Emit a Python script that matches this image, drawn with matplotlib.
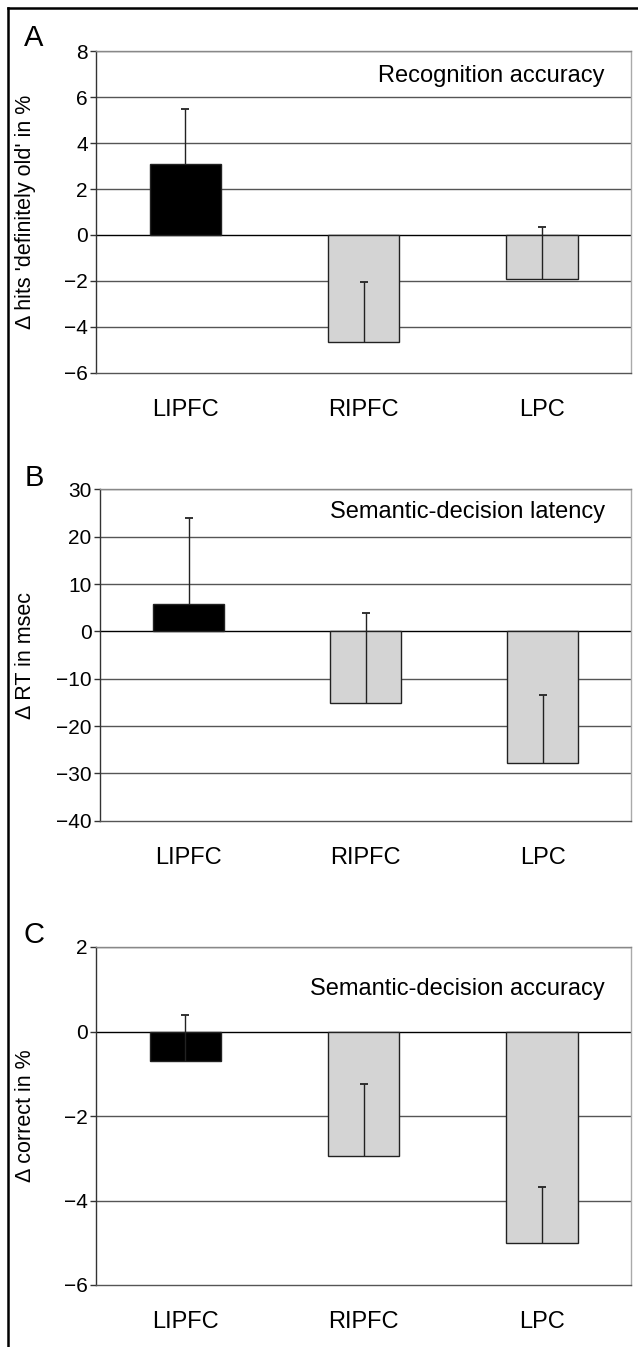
import matplotlib
matplotlib.use("Agg")
import matplotlib.pyplot as plt
from matplotlib.lines import Line2D
import numpy as np

plt.rcParams['font.family'] = ['Liberation Sans', 'DejaVu Sans']

regions = ["LIPFC", "RIPFC", "LPC"]

# A: recognition accuracy
acc_a = [3.1, -4.68, -1.92]
err_a = [2.4, 2.62, 2.28]
# B: semantic-decision latency
rt_b = [5.85, -15.1, -27.7]
err_b = [18.15, 19.0, 14.2]
# C: semantic-decision accuracy
acc_c = [-0.7, -2.95, -5.0]
err_c = [1.08, 1.7, 1.33]

W, H = 638, 1347
fig = plt.figure(figsize=(W / 100, H / 100), dpi=100)

panels = [
    dict(pos=(96, 51.4, 631, 372.7), vals=acc_a, errs=err_a, ylim=(-6, 8), step=2,
         ylabel="\u0394 hits 'definitely old' in %", title="Recognition accuracy",
         title_y=76, letter="A", letter_y=38),
    dict(pos=(100, 489.5, 631, 820.7), vals=rt_b, errs=err_b, ylim=(-40, 30), step=10,
         ylabel="\u0394 RT in msec", title="Semantic-decision latency",
         title_y=512, letter="B", letter_y=478),
    dict(pos=(96, 947, 631, 1285), vals=acc_c, errs=err_c, ylim=(-6, 2), step=2,
         ylabel="\u0394 correct in %", title="Semantic-decision accuracy",
         title_y=989, letter="C", letter_y=935),
]

for p in panels:
    x0, y0, x1, y1 = p["pos"]
    ax = fig.add_axes([x0 / W, 1 - y1 / H, (x1 - x0) / W, (y1 - y0) / H])
    lo, hi = p["ylim"]
    ticks = np.arange(lo, hi + 1, p["step"])
    for t in ticks[1:]:
        ax.axhline(t, color='black' if t == 0 else '#555555', lw=1.0, zorder=1)
    x = np.arange(len(regions))
    vals = np.array(p["vals"])
    tops = vals + np.array(p["errs"])
    colors = ['black', '#d4d4d4', '#d4d4d4']
    ax.bar(x, vals, width=0.4, color=colors, edgecolor='#222222', lw=1.0, zorder=2)
    # one-sided error bars: stem from bar end up, cap only at the top
    ax.vlines(x, vals, tops, color='#222222', lw=1.0, zorder=3)
    ax.plot(x, tops, ls='none', marker='_', ms=6, mew=1.3, color='#222222', zorder=3)
    ax.set_xlim(-0.5, 2.5)
    ax.set_ylim(lo, hi)
    ax.set_yticks(ticks)
    ax.set_yticklabels([str(int(t)).replace('-', '\u2212') for t in ticks], fontsize=15)
    ax.set_xticks(x)
    ax.set_xticklabels(regions, fontsize=17)
    ax.tick_params(axis='x', length=0, pad=19)
    ax.tick_params(axis='y', length=4, width=1, color='#333333', pad=2)
    ax.spines['left'].set_color('#333333')
    ax.spines['bottom'].set_color('#555555')
    ax.spines['top'].set_color('#888888')
    ax.spines['right'].set_color('#aaaaaa')
    for s in ax.spines.values():
        s.set_linewidth(1.0)
    ax.set_ylabel(p["ylabel"], fontsize=15.5)
    ax.yaxis.set_label_coords((36 - x0) / (x1 - x0), 0.5)
    ax.text((605 - x0) / (x1 - x0), 1 - (p["title_y"] - y0) / (y1 - y0), p["title"],
            transform=ax.transAxes, ha='right', va='center', fontsize=17)
    fig.text(34 / W, 1 - p["letter_y"] / H, p["letter"], fontsize=21,
             ha='center', va='center')

# outer frame (left and top only)
fig.add_artist(Line2D([8 / W, 8 / W], [0, 1 - 8 / H], color='black', lw=1.8,
                      transform=fig.transFigure))
fig.add_artist(Line2D([8 / W, 1], [1 - 8 / H, 1 - 8 / H], color='black', lw=1.8,
                      transform=fig.transFigure))

fig.savefig("out.png", dpi=100)
